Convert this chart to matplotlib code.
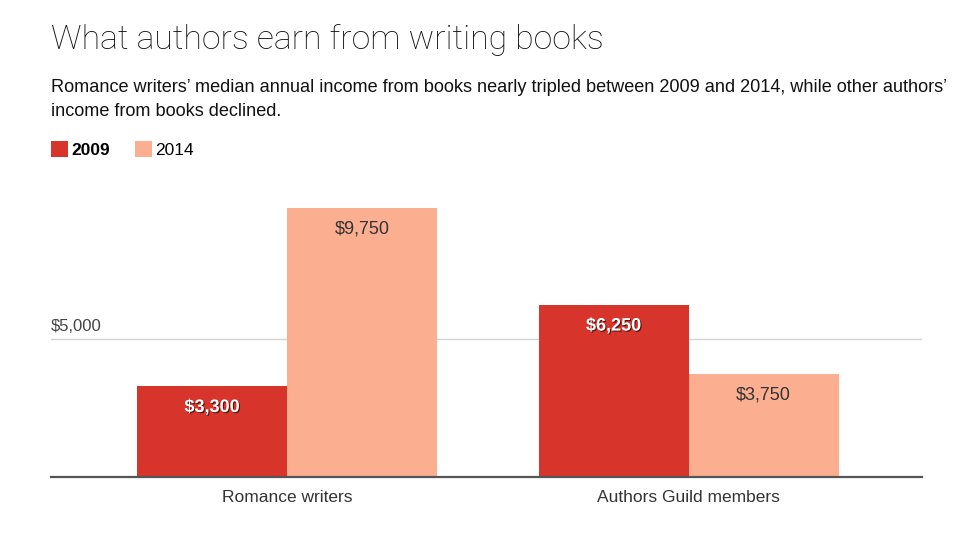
import numpy as np
import matplotlib
matplotlib.use('Agg')
import matplotlib.pyplot as plt
import matplotlib.patheffects as pe

# data
groups = ['Romance writers', 'Authors Guild members']
years = ['2009', '2014']
income_2009 = [3300, 6250]
income_2014 = [9750, 3750]
labels_2009 = ['$3,300', '$6,250']
labels_2014 = ['$9,750', '$3,750']

red = '#d7352b'
pale = '#fcae91'

plt.rcParams['font.family'] = ['Liberation Sans', 'DejaVu Sans']

fig = plt.figure(figsize=(9.76, 5.49), dpi=100)
ax = fig.add_axes([0.0523, 0.1311, 0.8924, 0.5027])

x = np.arange(len(groups))
w = 0.3736
b1 = ax.bar(x - w / 2, income_2009, w, color=red, label=years[0])
b2 = ax.bar(x + w / 2, income_2014, w, color=pale, label=years[1])

ax.set_xlim(-0.588, 1.5816)
ax.set_ylim(0, 10000)

# gridline at $5,000 with label sitting above it
ax.axhline(5000, color='#d4d4d4', lw=1, zorder=0)
ax.text(0.0, 5000 + 170, '$5,000', transform=ax.get_yaxis_transform(),
        ha='left', va='bottom', fontsize=12, color='#444444')

for s in ['top', 'right', 'left']:
    ax.spines[s].set_visible(False)
ax.spines['bottom'].set_color('#555555')
ax.spines['bottom'].set_linewidth(1.6)
ax.set_yticks([])
ax.set_xticks(x)
ax.set_xticklabels(groups, fontsize=12.5, color='#333333')
ax.tick_params(axis='x', length=0, pad=9)

# value labels inside the bars
shadow = [pe.withSimplePatchShadow(offset=(0.8, -0.8), shadow_rgbFace='black', alpha=0.6)]
for rect, lab in zip(b1, labels_2009):
    ax.annotate(lab, (rect.get_x() + rect.get_width() / 2, rect.get_height()),
                xytext=(0, -15.5), textcoords='offset points', ha='center', va='center',
                fontsize=13, color='white', fontweight='bold', path_effects=shadow)
for rect, lab in zip(b2, labels_2014):
    ax.annotate(lab, (rect.get_x() + rect.get_width() / 2, rect.get_height()),
                xytext=(0, -15.5), textcoords='offset points', ha='center', va='center',
                fontsize=13, color='#333333')

fig.text(0.0523, 0.928, 'What authors earn from writing books', fontsize=24.3,
         color='#111111', ha='left', va='center',
         family=['Roboto', 'Liberation Sans'], fontweight='light')
fig.text(0.0523, 0.84,
         "Romance writers\u2019 median annual income from books nearly tripled between 2009 and 2014, while other authors\u2019",
         fontsize=13.05, color='#111111', ha='left', va='center')
fig.text(0.0523, 0.797, 'income from books declined.', fontsize=13.05,
         color='#111111', ha='left', va='center')

leg = fig.legend(handles=[b1, b2], loc='center left', bbox_to_anchor=(0.036, 0.728),
                 ncol=2, frameon=False, fontsize=12.5, handlelength=1.0,
                 handleheight=1.1, handletextpad=0.2, columnspacing=1.4)
leg.get_texts()[0].set_fontweight('bold')

fig.savefig('out.png', dpi=100)
